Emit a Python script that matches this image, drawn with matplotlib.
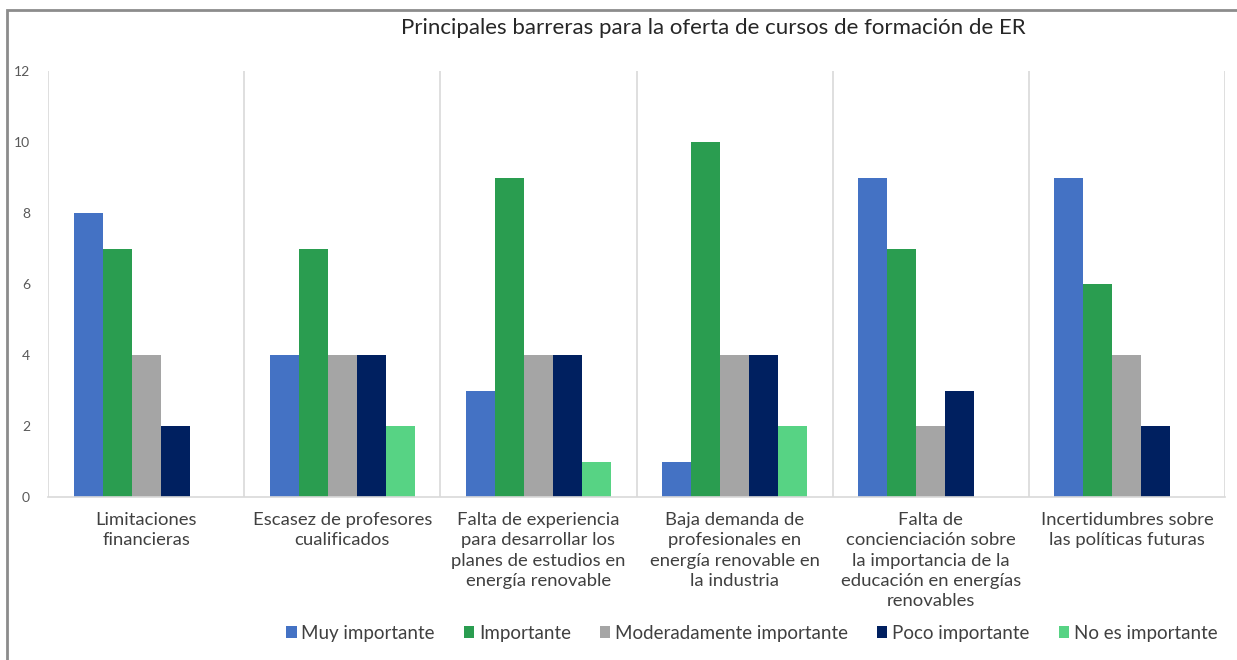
import matplotlib
matplotlib.use("Agg")
import matplotlib.pyplot as plt
from matplotlib.patches import Rectangle
import numpy as np

plt.rcParams['font.family'] = ['Lato', 'DejaVu Sans']

categories = [
    "Limitaciones\nfinancieras",
    "Escasez de profesores\ncualificados",
    "Falta de experiencia\npara desarrollar los\nplanes de estudios en\nenergía renovable",
    "Baja demanda de\nprofesionales en\nenergía renovable en\nla industria",
    "Falta de\nconcienciación sobre\nla importancia de la\neducación en energías\nrenovables",
    "Incertidumbres sobre\nlas políticas futuras",
]
series_names = ["Muy importante", "Importante", "Moderadamente importante",
                "Poco importante", "No es importante"]
muy_importante = [8, 4, 3, 1, 9, 9]
importante = [7, 7, 9, 10, 7, 6]
moderadamente = [4, 4, 4, 4, 2, 4]
poco = [2, 4, 4, 4, 3, 2]
no_es = [0, 2, 1, 2, 0, 0]
yticks = [0, 2, 4, 6, 8, 10, 12]

series = [muy_importante, importante, moderadamente, poco, no_es]
colors = ["#4472C4", "#2A9D50", "#A5A5A5", "#002060", "#57D384"]

fig = plt.figure(figsize=(12.37, 6.6), dpi=100)
ax = fig.add_axes([48/1237, 1-497/660, (1225-48)/1237, (497-71)/660])

x = np.arange(len(categories))
w = 0.148
for i, (vals, c, name) in enumerate(zip(series, colors, series_names)):
    ax.bar(x + (i - 2) * w, vals, width=w, color=c, label=name)

ax.set_xlim(-0.5, len(categories) - 0.5)
ax.set_ylim(0, 12)
ax.set_yticks(yticks)
ax.set_xticks(x)
ax.set_xticklabels(categories, fontsize=13.3, color="#404040", linespacing=1.32)
ax.set_xticks(np.arange(-0.5, len(categories)), minor=True)
ax.grid(which="minor", axis="x", color="#D9D9D9", linewidth=1.2)
ax.tick_params(axis="x", which="both", length=0, pad=11)
ax.tick_params(axis="y", length=0, labelsize=10, labelcolor="#595959", pad=13)
for s in ["top", "right", "left"]:
    ax.spines[s].set_visible(False)
ax.spines["bottom"].set_color("#D9D9D9")
ax.spines["bottom"].set_linewidth(1.2)
ax.set_axisbelow(True)

fig.text(713/1237, 1-28/660, "Principales barreras para la oferta de cursos de formación de ER",
         ha="center", va="center", fontsize=16, color="#262626")

handles, labels = ax.get_legend_handles_labels()
fig.legend(handles, labels, loc="center right", bbox_to_anchor=(1234/1237, 1-633/660),
           ncol=5, frameon=False, fontsize=13.5, handlelength=0.55, handleheight=0.55,
           handletextpad=0.25, columnspacing=1.55, labelcolor="#404040")

fig.add_artist(Rectangle((7/1237, -0.1), 1.2, 1 - 10/660 + 0.1, transform=fig.transFigure,
                         fill=False, edgecolor="#8C8C8C", linewidth=2))

fig.savefig("out.png", dpi=100)
